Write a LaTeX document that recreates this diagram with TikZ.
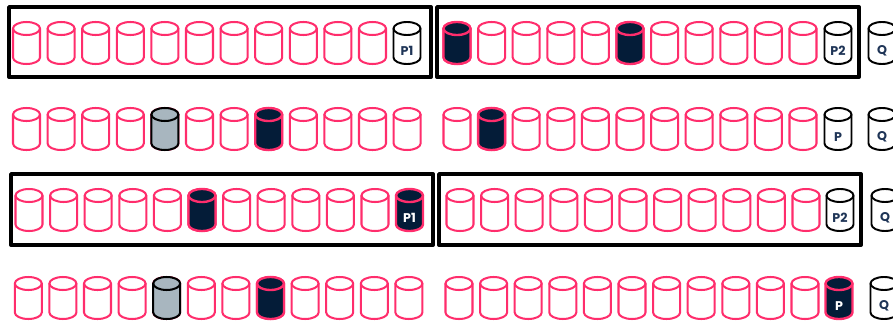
\documentclass[tikz,border=0pt]{standalone}
\usepackage{fontspec}
\setmainfont{Poppins}
\definecolor{diskpink}{HTML}{FF2D6C}
\definecolor{disknavy}{HTML}{041C38}
\definecolor{diskgray}{HTML}{A8B6BF}
\definecolor{labelnavy}{HTML}{1F3557}
\tikzset{
  pics/disk/.style={code={
    \path[pic actions] (-13.5,7.5) -- (-13.5,36.5)
      arc[start angle=180,end angle=0,x radius=13.5,y radius=6.5]
      -- (13.5,7.5) arc[start angle=0,end angle=-180,x radius=13.5,y radius=6.5] -- cycle;
    \path[pic actions,fill=none] (-13.5,7.5)
      arc[start angle=180,end angle=0,x radius=13.5,y radius=6.5];
  }},
  pinkdisk/.style={draw=diskpink,fill=white,line width=1.15pt},
  navydisk/.style={draw=diskpink,fill=disknavy,line width=1.35pt},
  graydisk/.style={draw=black,fill=diskgray,line width=1.15pt},
  paritydisk/.style={draw=black,fill=white,line width=1.1pt},
  frame/.style={draw=black,line width=2.2pt},
  paritylabel/.style={font=\fontsize{7.2}{8}\selectfont\bfseries,text=labelnavy,inner sep=0pt},
}

\begin{document}
\begin{tikzpicture}[x=0.02cm,y=-0.02cm,line cap=round,line join=round]
  \useasboundingbox (0,0) rectangle (893,321);
  % first row, two groups
  \foreach \i in {0,...,10} {
    \pic[pinkdisk] at ({26.5+34.6*\i},21) {disk};
    \pic[pinkdisk] at ({457+34.6*\i},21) {disk};
  }
  \pic[navydisk] at (457,21) {disk};
  \pic[navydisk] at (630,21) {disk};
  \pic[paritydisk] at (407,21) {disk};
  \pic[paritydisk] at (838,21) {disk};
  \pic[paritydisk] at (882,21) {disk};
  \node[paritylabel] (pa) at (407,51) {P1};
  \node[paritylabel] (pb) at (838,51) {P2};
  \node[paritylabel] (qa) at (882,51) {Q};
  \draw[frame] (9,7) rectangle (431,77);
  \draw[frame] (437,7) rectangle (859,77);
  % second row
  \foreach \i in {0,...,11} {
    \pic[pinkdisk] at ({26.5+34.6*\i},107) {disk};
  }
  \foreach \i in {0,...,10} {
    \pic[pinkdisk] at ({457+34.6*\i},107) {disk};
  }
  \pic[graydisk] at (164.9,107) {disk};
  \pic[navydisk] at (268.7,107) {disk};
  \pic[navydisk] at (491.6,107) {disk};
  \pic[paritydisk] at (838,107) {disk};
  \pic[paritydisk] at (882,107) {disk};
  \node[paritylabel] (pc) at (838,137) {P};
  \node[paritylabel] (qb) at (882,137) {Q};
  % third row, two groups
  \foreach \i in {0,...,10} {
    \pic[pinkdisk] at ({29+34.6*\i},188) {disk};
    \pic[pinkdisk] at ({460+34.6*\i},188) {disk};
  }
  \pic[navydisk] at (202,188) {disk};
  \pic[navydisk] at (409.5,188) {disk};
  \pic[paritydisk] at (840,188) {disk};
  \pic[paritydisk] at (885,188) {disk};
  \node[paritylabel,text=white] (pd) at (409.5,218) {P1};
  \node[paritylabel] (pe) at (840,218) {P2};
  \node[paritylabel] (qc) at (885,218) {Q};
  \draw[frame] (11,174) rectangle (433,245);
  \draw[frame] (439,174) rectangle (861,245);
  % fourth row
  \foreach \i in {0,...,11} {
    \pic[pinkdisk] at ({28.3+34.6*\i},276) {disk};
  }
  \foreach \i in {0,...,10} {
    \pic[pinkdisk] at ({459+34.6*\i},276) {disk};
  }
  \pic[graydisk] at (166.7,276) {disk};
  \pic[navydisk] at (270.5,276) {disk};
  \pic[navydisk] at (839,276) {disk};
  \pic[paritydisk] at (884,276) {disk};
  \node[paritylabel,text=white] (pf) at (839,306) {P};
  \node[paritylabel] (qd) at (884,306) {Q};
\end{tikzpicture}
\end{document}
